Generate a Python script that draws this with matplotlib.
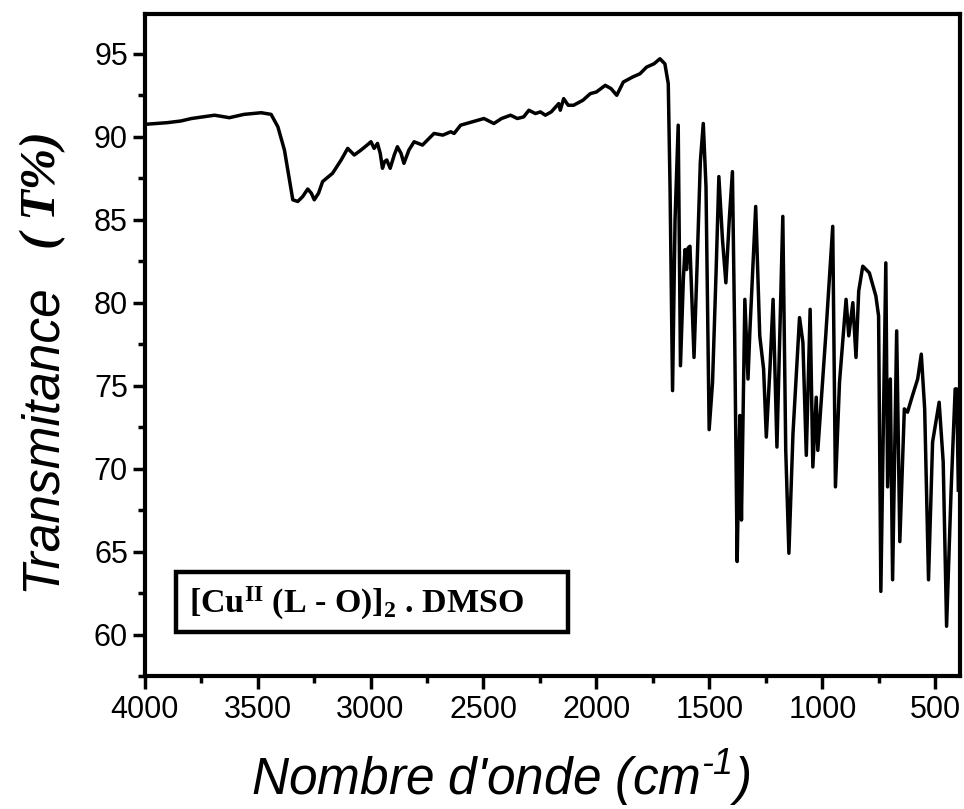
import matplotlib
matplotlib.use("Agg")
import matplotlib.pyplot as plt
from matplotlib.patches import Rectangle
from matplotlib.ticker import MultipleLocator

plt.rcParams['font.family'] = 'Liberation Sans'
plt.rcParams['mathtext.default'] = 'regular'

# IR spectrum (cm-1, T%)
wavenumber = [3998, 3900, 3840, 3793, 3740, 3690, 3625, 3560, 3520, 3484, 3440, 3410,
              3381, 3359, 3344, 3322, 3300, 3278, 3262, 3249, 3230, 3212, 3168, 3130,
              3101, 3072, 3042, 3015, 2998, 2984, 2969, 2957, 2947, 2938, 2928, 2913,
              2895, 2881, 2865, 2852, 2830, 2807, 2770, 2719, 2680, 2645, 2630, 2601,
              2550, 2498, 2454, 2420, 2380, 2350, 2322, 2299, 2270, 2248, 2226, 2200,
              2167, 2160, 2145, 2125, 2101, 2060, 2027, 2000, 1961, 1935, 1910, 1881,
              1840, 1807, 1778, 1745, 1719, 1697, 1682, 1674, 1663, 1652, 1638, 1628,
              1615, 1608, 1601, 1594, 1586, 1568, 1555, 1540, 1527, 1515, 1501, 1486,
              1470, 1458, 1442, 1427, 1412, 1398, 1388, 1377, 1370, 1365, 1358, 1343,
              1329, 1321, 1295, 1277, 1260, 1248, 1232, 1218, 1201, 1175, 1162, 1148,
              1130, 1110, 1101, 1086, 1071, 1054, 1042, 1027, 1020, 985, 954, 942,
              924, 895, 883, 865, 851, 839, 821, 792, 763, 751, 741, 719,
              711, 699, 689, 671, 657, 637, 623, 601, 578, 562, 547, 530,
              512, 483, 465, 450, 430, 412, 405, 398]
transmit = [90.75, 90.85, 90.95, 91.1, 91.2, 91.3, 91.15, 91.35, 91.4, 91.45, 91.35, 90.6,
            89.2, 87.4, 86.2, 86.1, 86.4, 86.85, 86.6, 86.2, 86.6, 87.3, 87.8, 88.6,
            89.3, 88.9, 89.2, 89.5, 89.7, 89.3, 89.6, 89.0, 88.1, 88.5, 88.6, 88.1,
            88.9, 89.4, 89.0, 88.4, 89.2, 89.7, 89.5, 90.2, 90.1, 90.3, 90.2, 90.7,
            90.9, 91.1, 90.8, 91.1, 91.3, 91.1, 91.2, 91.6, 91.4, 91.5, 91.3, 91.5,
            92.0, 91.6, 92.3, 91.9, 91.9, 92.2, 92.6, 92.7, 93.1, 92.9, 92.5, 93.3,
            93.6, 93.8, 94.2, 94.4, 94.7, 94.4, 93.2, 86.8, 74.7, 85.0, 90.7, 76.2,
            81.5, 83.2, 82.0, 83.3, 83.4, 76.7, 82.0, 88.5, 90.8, 87.0, 72.35, 75.2,
            82.0, 87.6, 83.8, 81.2, 85.0, 87.9, 78.0, 64.4, 70.0, 73.2, 66.9, 80.2,
            75.4, 78.2, 85.8, 78.0, 76.0, 71.9, 76.0, 80.2, 71.3, 85.2, 71.1, 64.9,
            72.1, 77.0, 79.1, 77.6, 70.8, 79.6, 70.1, 74.3, 71.1, 78.0, 84.6, 68.9,
            75.2, 80.2, 78.0, 80.0, 76.7, 80.7, 82.2, 81.8, 80.4, 79.2, 62.6, 82.4,
            68.9, 75.4, 63.3, 78.3, 65.6, 73.6, 73.4, 74.4, 75.4, 76.9, 73.6, 63.3,
            71.6, 74.0, 70.4, 60.5, 68.7, 74.8, 74.8, 68.7]

x_ticks = [4000, 3500, 3000, 2500, 2000, 1500, 1000, 500]
y_ticks = [60, 65, 70, 75, 80, 85, 90, 95]

fig = plt.figure(figsize=(9.64, 8.09), dpi=100)
ax = fig.add_axes([0.150, 0.1644, 0.846, 0.8183])

ax.plot(wavenumber, transmit, color='black', lw=2.5)

ax.set_xlim(4000, 390)
ax.set_ylim(57.5, 97.4)
ax.set_xticks(x_ticks)
ax.set_yticks(y_ticks)
ax.xaxis.set_minor_locator(MultipleLocator(250))
ax.yaxis.set_minor_locator(MultipleLocator(2.5))
ax.tick_params(which='major', direction='out', length=9, width=2.5,
               labelsize=22, pad=5)
ax.tick_params(which='minor', direction='out', length=5, width=2.5)
ax.tick_params(axis='y', pad=3)
for s in ax.spines.values():
    s.set_linewidth(3)

# sample label in a box
ax.add_patch(Rectangle((0.038, 0.066), 0.481, 0.091, transform=ax.transAxes,
                       fill=False, lw=3.2, ec='black'))
ax.text(0.055, 0.11, r"[Cu$^{II}$ (L - O)]$_{2}$ . DMSO", transform=ax.transAxes,
        ha='left', va='center', fontsize=24.5, fontweight='bold',
        family='Liberation Serif')

fig.text(501 / 964, 1 - 795 / 809, "Nombre d'onde (cm$^{\u2010 1}$)", ha='center',
         va='baseline', fontsize=37, style='italic')
fig.text(55 / 964, 1 - 437 / 809, "Transmitance", rotation=90,
         rotation_mode='anchor', ha='center', va='baseline', fontsize=37,
         style='italic')
fig.text(55 / 964, 1 - 190 / 809, "( T%)", rotation=90, rotation_mode='anchor',
         ha='center', va='baseline', fontsize=36, style='italic',
         fontweight='bold', family='Liberation Serif')

fig.savefig('out.png', dpi=100)
